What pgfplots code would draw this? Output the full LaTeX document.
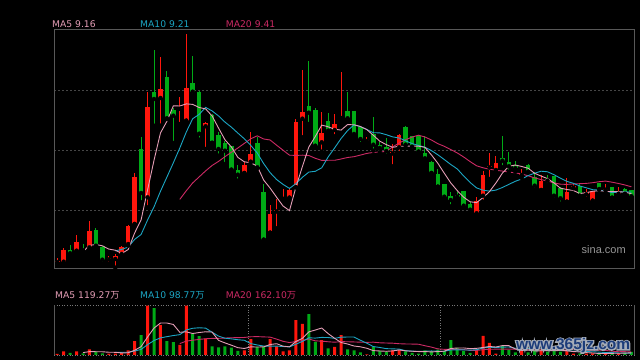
\documentclass[border=0pt]{standalone}
\usepackage{pgfplots}
\pgfplotsset{compat=1.18}
\usepackage{pgfplotstable}
\usepackage{fontspec}
\setmainfont{DejaVu Sans}
\newfontfamily\cjk{Noto Sans CJK SC}
\newfontfamily\lib{Liberation Sans}
\newfontfamily\wmglowfont[UprightFont=* Bold, FakeBold=16]{Liberation Sans}
\newfontfamily\wmfont[UprightFont=* Bold]{Liberation Sans}
\definecolor{cred}{RGB}{255,22,12}
\definecolor{cgreen}{RGB}{0,170,22}
\definecolor{mafive}{RGB}{228,158,182}
\definecolor{maten}{RGB}{28,166,196}
\definecolor{matwenty}{RGB}{204,42,100}
\definecolor{framec}{RGB}{88,88,88}
\definecolor{gridc}{RGB}{70,70,70}
\definecolor{vgridc}{RGB}{120,120,120}
\definecolor{wmblue}{RGB}{28,60,122}
\definecolor{wmglow}{RGB}{165,172,184}

% red (up) candles: index open high low close volume
\pgfplotstableread{
i o h l c v
1 5.8 9.7 2.3 6.8 3
2 6.3 19.7 4 18 11
4 17.3 33.3 17 25.7 11
6 20.7 46.7 19 37 17
9 8.5 11.7 4 9.5 4
10 9 13.7 0.3 12 4
11 14 22.3 10.7 20.7 7
12 24 43 22.3 42 14
13 44 95 44 91 41
15 70.7 175.7 60.7 161 147
17 170 211 142.3 179 89
20 159.2 170.7 144 160.2 30
21 147.3 234 147.3 179.7 147
24 141.7 145.7 119 145 49
30 95 106.3 95 103 14
31 106.3 136.3 105.7 114 47
34 35.3 63.3 35.3 53.7 47
35 56.5 69 39.7 57.5 26
36 69.2 79 69 70.2 11
37 70.3 79.7 70.3 77.7 14
38 80.7 149 80.7 146 104
39 149.3 198 130.7 156 93
42 125.7 155.7 116.3 135 44
44 138 154 131.7 144 24
45 150 195.7 149.7 151 59
49 127 130.7 124 128 2
53 114.5 124 101.7 115.5 14
54 120.7 133.7 115 133 16
66 54.7 70.7 53.7 67.3 16
67 72.3 97.3 66.3 93 57
68 100.5 114.7 89 101.5 36
69 98 111.7 97.3 105 4
73 93 99 90 94 15
76 78 93.3 78 87.3 17
80 66.3 89.7 66.3 76 12
81 80.3 85 79.7 82.3 4
83 73.7 79 69 76.3 4
84 67.3 76.7 67.3 76.7 5
86 78.3 84 77.3 79.3 5
88 74.3 80.7 70.7 76.3 5
}\redtab

% green (down) candles
\pgfplotstableread{
i o h l c v
3 18 23 13 14.7 6
5 18.5 24 17.3 17.5 5
7 38 39.7 20.7 22.3 10
8 20.7 22.3 4 8.3 5
14 119 130.7 65.7 75 59
16 175.7 218 142.3 169 140
18 191 197 149 149.7 41
19 158 159.7 125 152.3 38
22 185 211.7 172.3 176.3 64
23 176.3 177.3 128.3 134.3 56
25 153 154 125 125.3 26
26 133 135.7 112.3 119 23
27 125 127.3 104 117.3 26
28 121.7 122.3 98.3 98.3 22
29 98 103 87.3 93.3 12
32 125 130.7 99.7 100.7 24
33 76 84 28.3 28.3 24
40 162 207 144 155.3 122
41 158 159.7 121.7 122.3 39
43 147 154.7 135.7 137.3 20
46 157.3 175.7 147.3 149.7 17
47 157.3 157.3 132.3 134 14
48 141.3 141.3 124 129 8
50 134 151.3 117.3 123.3 24
51 123.3 125.7 115.7 120 12
52 120.7 129.7 112.3 117 9
55 140.7 141.7 122.3 123.3 11
56 131.7 132.3 117.3 121.3 6
57 132.3 133 116.3 116.3 4
58 115 132.3 106.3 109.7 14
59 106.3 107.3 95 95 11
60 94 99 81.3 81.3 16
61 84 84 69.7 71.3 12
62 72.3 75.7 61.7 68 44
63 73.3 76.3 68.3 71.3 21
64 76.7 77.3 60 62.3 12
65 64 65.7 54.7 58.3 6
70 110 131.7 100.7 107.3 27
71 105.7 116.3 96.3 101.7 15
72 103.3 106.7 96.3 99.7 8
74 103 104 95.7 96.3 8
75 90.7 95.7 78 82.3 15
77 89 93 83 87.3 10
78 92.3 92.3 68.3 72.3 15
79 80 80.7 64.3 69.7 10
82 82.3 84.7 72.3 72.3 5
85 85 85 78.3 79 4
87 81 81 70.3 70.3 7
89 79 79.7 73.7 74.3 7
90 77.7 78.3 70 71.7 9
}\greentab

% price moving averages
\pgfplotstableread{
i m5 m10 m20
5 16.5 nan nan
6 22.6 nan nan
7 23.5 nan nan
8 22.2 nan nan
9 18.9 nan nan
10 17.8 17.1 nan
11 14.5 18.6 nan
12 18.5 21 nan
13 35 28.6 nan
14 48.1 33.5 nan
15 77.9 47.9 nan
16 107.6 61.1 nan
17 135 76.7 nan
18 146.7 90.9 nan
19 162.2 105.2 nan
20 162 120 68.6
21 164.1 135.9 77.2
22 163.6 149.3 85.1
23 160.5 153.6 91.1
24 159.1 160.6 97.1
25 152.1 157.1 102.5
26 140 152.1 106.6
27 128.2 145.9 111.3
28 121 140.8 115.8
29 110.6 134.9 120
30 106.2 129.2 124.6
31 105.2 122.6 129.2
32 101.9 115 132.2
33 87.9 104.4 129
34 79.9 95.3 128
35 70.8 88.5 122.8
36 62 83.6 117.8
37 57.4 79.6 112.8
38 80.9 84.4 112.6
39 101.4 90.7 112.8
40 121 95.9 112.5
41 131.5 96.7 109.7
42 142.9 100.2 107.6
43 141.2 111.1 107.7
44 138.8 120.1 107.7
45 137.9 129.5 109
46 143.4 137.4 110.5
47 143.2 143.1 111.3
48 141.5 141.4 112.9
49 138.3 138.5 114.6
50 132.7 135.3 115.6
51 126.8 135.1 115.9
52 123.4 133.3 116.7
53 120.7 131.1 121.1
54 121.7 130 125
55 121.7 127.2 128.3
56 122 124.4 130.9
57 121.8 122.6 132.8
58 120.7 120.7 131
59 113.1 117.4 128
60 104.7 113.2 124.3
61 94.7 108.4 121.7
62 85.1 103.5 118.4
63 77.4 99.1 115.1
64 70.8 92 111
65 66.2 85.5 106.4
66 65.4 80.1 102.2
67 70.4 77.8 100.2
68 76.4 76.9 98.8
69 85 77.9 97.7
70 94.8 80.5 96.9
71 101.7 83.6 96
72 103 86.7 95.1
73 101.5 89 94
74 99.7 92.4 92.2
75 94.7 94.8 90.1
76 91.9 96.8 88.4
77 89.4 96.2 87
78 85.1 93.3 85.1
79 79.8 89.8 83.8
80 78.5 86.6 83.6
81 77.5 84.7 84.1
82 74.5 82 84.3
83 75.3 80.2 84.6
84 76.7 78.3 85.3
85 77.3 77.9 86.3
86 76.7 77.1 86.9
87 76.3 75.4 85.8
88 76.3 75.8 84.5
89 75.8 76.3 83
90 74.3 75.8 81.2
}\matab

% volume moving averages
\pgfplotstableread{
i v5 v10 v20
5 7.2 nan nan
6 10 nan nan
7 9.8 nan nan
8 9.6 nan nan
9 8.2 nan nan
10 8 7.6 nan
11 6 8 nan
12 6.8 8.3 nan
13 14 11.8 nan
14 25 16.6 nan
15 53.6 30.8 nan
16 80.2 43.1 nan
17 95.2 51 nan
18 95.2 54.6 nan
19 91 58 nan
20 67.6 60.6 34.1
21 69 74.6 41.3
22 64 79.6 44
23 67 81.1 46.5
24 69.2 80.1 48.4
25 68.4 68 49.4
26 43.6 56.3 49.7
27 36 50 50.5
28 29.2 48.1 51.4
29 21.8 45.5 51.8
30 19.4 43.9 52.3
31 24.2 33.9 54.3
32 23.8 29.9 54.8
33 24.2 26.7 53.9
34 31.2 26.5 53.3
35 33.6 26.5 47.3
36 26.4 25.3 40.8
37 24.4 24.1 37.1
38 40.4 32.3 40.2
39 49.6 40.4 43
40 68.8 51.2 47.6
41 74.4 50.4 42.2
42 80.4 52.4 41.2
43 63.6 52 39.4
44 49.8 49.7 38.1
45 37.2 53 39.8
46 32.8 53.6 39.5
47 26.8 53.6 38.9
48 24.4 44 38.2
49 20 34.9 37.7
50 13 25.1 38.2
51 12 22.4 36.4
52 11 18.9 35.7
53 12.2 18.3 35.2
54 15 17.5 33.6
55 12.4 12.7 32.9
56 11.2 11.6 32.6
57 10.2 10.6 32.1
58 10.2 11.2 27.6
59 9.2 12.1 23.5
60 10.2 11.3 18.2
61 11.4 11.3 16.9
62 19.4 14.8 16.9
63 20.8 15.5 16.9
64 21 15.1 16.3
65 19 14.6 13.7
66 19.8 15.6 13.6
67 22.4 20.9 15.8
68 25.4 23.1 17.2
69 23.8 22.4 17.3
70 28 23.5 17.4
71 27.8 23.8 17.6
72 18 20.2 17.5
73 13.8 19.6 17.6
74 14.6 19.2 17.2
75 12.2 20.1 17.4
76 12.6 20.2 17.9
77 13 15.5 18.2
78 13 13.4 18.3
79 13.4 14 18.2
80 12.8 12.5 18
81 10.2 11.4 17.6
82 9.2 11.1 15.7
83 7 10 14.8
84 6 9.7 14.5
85 4.4 8.6 14.4
86 4.6 7.4 13.8
87 5 7.1 11.3
88 5.2 6.1 9.8
89 5.6 5.8 9.9
90 6.6 5.5 9
}\vmatab

\begin{document}
\begin{tikzpicture}
\fill[black] (0,0) rectangle (640pt,360pt);

% main candlestick panel
\begin{axis}[
  at={(54pt,92pt)}, anchor=south west, scale only axis,
  width=580pt, height=239pt,
  xmin=0.5, xmax=90.4, ymin=0, ymax=239,
  xtick=\empty, ytick={58,118,178}, yticklabels={},
  major tick length=0pt,
  ymajorgrids, grid style={draw=gridc, line width=0.9pt, dash pattern=on 2pt off 2pt},
  axis line style={draw=framec, line width=0.9pt},
  unbounded coords=jump,
]
% wicks
\addplot[only marks, mark=none, error bars/.cd, y dir=plus, y explicit, error mark=none,
  error bar style={draw=cred, line width=1pt}]
  table[x=i, y=l, y error plus expr=\thisrow{h}-\thisrow{l}] {\redtab};
\addplot[only marks, mark=none, error bars/.cd, y dir=plus, y explicit, error mark=none,
  error bar style={draw=cgreen, line width=1pt}]
  table[x=i, y=l, y error plus expr=\thisrow{h}-\thisrow{l}] {\greentab};
% bodies
\addplot[only marks, mark=none, error bars/.cd, y dir=plus, y explicit, error mark=none,
  error bar style={draw=cred, line width=4.6pt}]
  table[x=i, y=o, y error plus expr=\thisrow{c}-\thisrow{o}] {\redtab};
\addplot[only marks, mark=none, error bars/.cd, y dir=plus, y explicit, error mark=none,
  error bar style={draw=cgreen, line width=4.6pt}]
  table[x=i, y=c, y error plus expr=\thisrow{o}-\thisrow{c}] {\greentab};
% moving averages
\addplot[matwenty, line width=0.9pt, mark=none] table[x=i, y=m20] {\matab};
\addplot[maten, line width=0.9pt, mark=none] table[x=i, y=m10] {\matab};
\addplot[mafive, line width=0.9pt, mark=none] table[x=i, y=m5] {\matab};
\end{axis}

% volume panel
\begin{axis}[
  at={(54pt,5pt)}, anchor=south west, scale only axis,
  width=580pt, height=50pt,
  xmin=0.5, xmax=90.4, ymin=0, ymax=149,
  xtick={30.7,60.45}, xticklabels={}, ytick=\empty,
  major tick length=0pt,
  xmajorgrids, grid style={draw=vgridc, line width=0.9pt, dash pattern=on 1pt off 1.6pt},
  separate axis lines,
  x axis line style={draw=vgridc, line width=0.9pt, dash pattern=on 1pt off 1.6pt},
  y axis line style={draw=framec, line width=0.9pt},
  unbounded coords=jump,
]
\addplot[ybar, bar width=3pt, bar shift=0pt, fill=cred, draw=none] table[x=i, y=v] {\redtab};
\addplot[ybar, bar width=3pt, bar shift=0pt, fill=cgreen, draw=none] table[x=i, y=v] {\greentab};
\addplot[matwenty, line width=0.9pt, mark=none] table[x=i, y=v20] {\vmatab};
\addplot[maten, line width=0.9pt, mark=none] table[x=i, y=v10] {\vmatab};
\addplot[mafive, line width=0.9pt, mark=none] table[x=i, y=v5] {\vmatab};
\end{axis}

% headers
\begin{scope}[every node/.style={anchor=base west, inner sep=0pt, font=\fontsize{9.2}{11}\selectfont}]
\node[text=mafive] at (52pt,332.7pt) {MA5 9.16};
\node[text=maten] at (140pt,332.7pt) {MA10 9.21};
\node[text=matwenty] at (225.7pt,332.7pt) {MA20 9.41};
\node[text=mafive] at (55pt,61pt) {MA5 119.27{\cjk 万}};
\node[text=maten] at (140pt,61pt) {MA10 98.77{\cjk 万}};
\node[text=matwenty] at (225.7pt,61pt) {MA20 162.10{\cjk 万}};
\end{scope}
\node[anchor=base west, inner sep=0pt, text={rgb,255:red,150;green,150;blue,150}, font=\lib\fontsize{11}{13}\selectfont] at (581.5pt,106pt) {sina.com};

% site watermark: heavy grey halo underneath, blue letters on top
\node[anchor=base west, inner sep=0pt, text=wmglow, font=\wmglowfont\fontsize{15.5}{17}\selectfont] at (516pt,10.5pt) {www.365jz.com};
\node[anchor=base west, inner sep=0pt, text=wmblue, font=\wmfont\fontsize{15.5}{17}\selectfont] at (516pt,10.5pt) {www.365jz.com};
\end{tikzpicture}
\end{document}
